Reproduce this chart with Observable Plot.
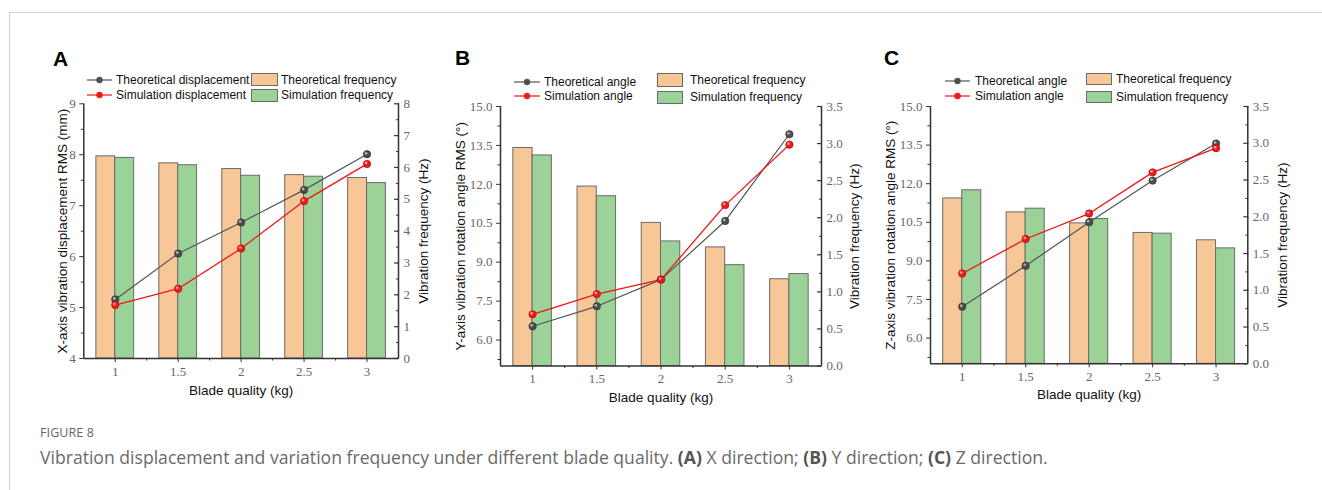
<!DOCTYPE html>
<html><head><meta charset="utf-8">
<script src="https://cdn.jsdelivr.net/npm/d3@7"></script>
<script src="https://cdn.jsdelivr.net/npm/@observablehq/plot@0.6"></script>
<style>
html,body{margin:0;padding:0;background:#fff;}
body{width:1322px;height:490px;overflow:hidden;position:relative;font-family:"Liberation Sans",Arial,sans-serif;}
#card{position:absolute;left:9px;top:12px;width:1313px;height:478px;border-top:1px solid #cfcfcf;border-left:1px solid #cfcfcf;box-sizing:border-box;}
.abs{position:absolute;}
.letter{font-weight:bold;font-size:21px;line-height:21px;color:#000;}
.leg{position:absolute;font-size:12px;line-height:14px;height:14px;color:#111;white-space:nowrap;}
.sw{position:absolute;border:1px solid #6a6a6a;box-sizing:border-box;}
.panel svg{position:absolute;left:0;top:0;}
#fig{position:absolute;left:40px;top:425px;font-family:"Open Sans",sans-serif;font-size:12.5px;line-height:16px;color:#666;letter-spacing:0.1px;}
#cap{position:absolute;left:40px;top:445px;font-family:"Open Sans",sans-serif;font-size:17.6px;line-height:24px;color:#6a6a6a;white-space:nowrap;}
#cap b{color:#555;}
</style>
</head><body>
<div id="card"></div>
<div id="root"></div>
<div id="fig">FIGURE 8</div>
<div id="cap">Vibration displacement and variation frequency under different blade quality. <b>(A)</b> X direction; <b>(B)</b> Y direction; <b>(C)</b> Z direction.</div>
<script>
// ---------- data ----------
const massKg = [1, 1.5, 2, 2.5, 3];
const xTickLabels = ["1", "1.5", "2", "2.5", "3"];

// Panel A: X direction (displacement mm, frequency Hz)
const theoDispA = [5.16, 6.06, 6.67, 7.31, 8.01];
const simDispA  = [5.05, 5.37, 6.16, 7.09, 7.82];
const theoFreqA = [6.35, 6.13, 5.95, 5.76, 5.67];
const simFreqA  = [6.30, 6.07, 5.74, 5.71, 5.51];

// Panel B: Y direction (angle °, frequency Hz)
const theoAngleB = [6.53, 7.30, 8.33, 10.59, 13.93];
const simAngleB  = [6.99, 7.77, 8.33, 11.20, 13.53];
const theoFreqB  = [2.94, 2.42, 1.93, 1.60, 1.17];
const simFreqB   = [2.84, 2.29, 1.68, 1.36, 1.24];

// Panel C: Z direction (angle °, frequency Hz)
const theoAngleC = [7.22, 8.81, 10.50, 12.12, 13.56];
const simAngleC  = [8.51, 9.85, 10.84, 12.44, 13.38];
const theoFreqC  = [2.25, 2.06, 1.91, 1.78, 1.68];
const simFreqC   = [2.36, 2.11, 1.97, 1.77, 1.57];

// ticks
const xMinorTicks = [1.25, 1.75, 2.25, 2.75];
const dispTicksA = [4, 5, 6, 7, 8, 9];
const dispMinorA = [4.5, 5.5, 6.5, 7.5, 8.5];
const freqTicksA = [0, 1, 2, 3, 4, 5, 6, 7, 8];
const freqMinorA = [0.5, 1.5, 2.5, 3.5, 4.5, 5.5, 6.5, 7.5];
const angleTicks = [6, 7.5, 9, 10.5, 12, 13.5, 15];
const angleMinor = [5.25, 6.75, 8.25, 9.75, 11.25, 12.75, 14.25];
const freqTicksBC = [0, 0.5, 1, 1.5, 2, 2.5, 3, 3.5];
const freqMinorBC = [0.25, 0.75, 1.25, 1.75, 2.25, 2.75, 3.25];

// ---------- styles ----------
const ORANGE = "#f8c797";
const GREEN = "#9bd297";
const BAR_STROKE = "#6a6a6a";
const AXIS = "#333";
const GRAYLINE = "#555";
const RED = "#f01515";
const TICKFONT = "'Liberation Serif', 'DejaVu Serif', serif";
const TITLEFONT = "'Liberation Sans', Arial, sans-serif";

const panels = [
  {id: "A", left: 25, top: 90, width: 415, height: 320, mL: 58.3, mR: 42, mT: 13.3, mB: 52,
   line1: theoDispA, line2: simDispA, f1: theoFreqA, f2: simFreqA,
   yDomain: [4, 9], yTicks: dispTicksA, yMinor: dispMinorA, yFmt: d => String(d),
   fDomain: [0, 8], fTicks: freqTicksA, fMinor: freqMinorA, fFmt: d => String(d),
   yTitle: "X-axis vibration displacement RMS (mm)", yTitleDx: -21.5, fTitleDx: 25.5, xTitleDy: 32,
   letterX: 53, letterY: 48,
   leg: {symX: 87, symW: 25, row1: 80, row2: 94.5, textX: 116, swX: 251, swW: 26.5, sw1: 73.3, sw2: 89, swH: 12.7, swTextX: 281,
         l1: "Theoretical displacement", l2: "Simulation displacement"}},
  {id: "B", left: 440, top: 90, width: 430, height: 320, mL: 60, mR: 49, mT: 16, mB: 44.5,
   line1: theoAngleB, line2: simAngleB, f1: theoFreqB, f2: simFreqB,
   yDomain: [5, 15], yTicks: angleTicks, yMinor: angleMinor, yFmt: d => d.toFixed(1),
   fDomain: [0, 3.5], fTicks: freqTicksBC, fMinor: freqMinorBC, fFmt: d => d.toFixed(1),
   yTitle: "Y-axis vibration rotation angle RMS (°)", yTitleDx: -40, fTitleDx: 33, xTitleDy: 31.5,
   letterX: 455, letterY: 47,
   leg: {symX: 514, symW: 26, row1: 81.7, row2: 96, textX: 544, swX: 656.7, swW: 26.6, sw1: 73.3, sw2: 90.7, swH: 13.5, swTextX: 690,
         l1: "Theoretical angle", l2: "Simulation angle"}},
  {id: "C", left: 870, top: 90, width: 440, height: 320, mL: 60, mR: 62.7, mT: 16, mB: 46.7,
   line1: theoAngleC, line2: simAngleC, f1: theoFreqC, f2: simFreqC,
   yDomain: [5, 15], yTicks: angleTicks, yMinor: angleMinor, yFmt: d => d.toFixed(1),
   fDomain: [0, 3.5], fTicks: freqTicksBC, fMinor: freqMinorBC, fFmt: d => d.toFixed(1),
   yTitle: "Z-axis vibration rotation angle RMS (°)", yTitleDx: -40, fTitleDx: 35, xTitleDy: 31,
   letterX: 884, letterY: 47,
   leg: {symX: 945, symW: 25, row1: 80.7, row2: 95.7, textX: 975, swX: 1086, swW: 25.7, sw1: 72.7, sw2: 90.7, swH: 12.6, swTextX: 1116,
         l1: "Theoretical angle", l2: "Simulation angle"}}
];

const root = document.getElementById("root");

function addHTML(html) {
  const d = document.createElement("div");
  d.innerHTML = html;
  while (d.firstChild) root.appendChild(d.firstChild);
}

function lineSymbol(x, y, w, color, ball) {
  return `<svg class="abs" style="left:${x}px;top:${y - 5}px" width="${w}" height="10">
    <line x1="0" y1="5" x2="${w}" y2="5" stroke="${color}" stroke-width="1.2"/>
    <circle cx="${w / 2}" cy="5" r="3" fill="${ball}" stroke="${color}" stroke-width="0.6"/></svg>`;
}

for (const p of panels) {
  const data = massKg.map((m, i) => ({m, label: xTickLabels[i], a: p.line1[i], b: p.line2[i], fa: p.f1[i], fb: p.f2[i]}));
  const common = {
    width: p.width, height: p.height,
    marginLeft: p.mL, marginRight: p.mR, marginTop: p.mT, marginBottom: p.mB,
    x: {domain: [0.75, 3.25], axis: null, label: null},
  };

  // Frequency bars + right axis
  const bars = Plot.plot({
    ...common,
    y: {domain: p.fDomain, axis: null, label: null},
    style: {background: "white", fontFamily: TICKFONT, fontSize: "13px", overflow: "visible"},
    marks: [
      Plot.rect(data, {x1: d => d.m - 0.15, x2: d => d.m, y1: d => 0, y2: "fa", fill: ORANGE, stroke: BAR_STROKE, strokeWidth: 1}),
      Plot.rect(data, {x1: d => d.m, x2: d => d.m + 0.15, y1: d => 0, y2: "fb", fill: GREEN, stroke: BAR_STROKE, strokeWidth: 1}),
      Plot.ruleX([3.25], {stroke: AXIS, strokeWidth: 1.5}),
      Plot.axisY({anchor: "right", ticks: p.fTicks, tickSize: 5, dx: -5, fill: "none", stroke: AXIS, strokeWidth: 1.2, label: null}),
      Plot.axisY({anchor: "right", ticks: p.fMinor, tickSize: 3, dx: -3, fill: "none", stroke: AXIS, strokeWidth: 1, label: null}),
      Plot.axisY({anchor: "right", ticks: p.fTicks, tickSize: 0, tickPadding: 5, tickFormat: p.fFmt, fill: "#666", label: null}),
      Plot.text(["Vibration frequency (Hz)"], {frameAnchor: "right", textAnchor: "middle", lineAnchor: "middle", dx: p.fTitleDx, rotate: -90, fontFamily: TITLEFONT, fontSize: 13.5, fill: "#111"})
    ]
  });

  // Lines + left & bottom axes
  const lines = Plot.plot({
    ...common,
    y: {domain: p.yDomain, axis: null, label: null},
    style: {background: "transparent", fontFamily: TICKFONT, fontSize: "13px", overflow: "visible"},
    marks: [
      Plot.ruleX([0.75], {stroke: AXIS, strokeWidth: 1.5}),
      Plot.ruleY([p.yDomain[0]], {stroke: AXIS, strokeWidth: 1.5}),
      Plot.axisX({anchor: "bottom", ticks: massKg, tickSize: 4, tickPadding: 4, tickFormat: (d, i) => xTickLabels[i], stroke: AXIS, fill: "#666", label: null}),
      Plot.axisX({anchor: "bottom", ticks: xMinorTicks, tickSize: 2.5, fill: "none", stroke: AXIS, label: null}),
      Plot.axisY({anchor: "left", ticks: p.yTicks, tickSize: 4, tickPadding: 4, tickFormat: p.yFmt, stroke: AXIS, fill: "#666", label: null}),
      Plot.axisY({anchor: "left", ticks: p.yMinor, tickSize: 2.5, fill: "none", stroke: AXIS, label: null}),
      Plot.line(data, {x: "m", y: "a", stroke: GRAYLINE, strokeWidth: 1.2}),
      Plot.line(data, {x: "m", y: "b", stroke: RED, strokeWidth: 1.3}),
      Plot.dot(data, {x: "m", y: "a", r: 3.7, fill: "#4d4d4d", stroke: "#2a2a2a", strokeWidth: 0.6}),
      Plot.dot(data, {x: "m", y: "a", r: 1.3, fill: "#b8b8b8", dx: -1, dy: -1}),
      Plot.dot(data, {x: "m", y: "b", r: 3.7, fill: "#ee1b1b", stroke: "#b00000", strokeWidth: 0.6}),
      Plot.dot(data, {x: "m", y: "b", r: 1.3, fill: "#ffa0a0", dx: -1, dy: -1}),
      Plot.text([p.yTitle], {frameAnchor: "left", textAnchor: "middle", lineAnchor: "middle", dx: p.yTitleDx, rotate: -90, fontFamily: TITLEFONT, fontSize: 13.5, fill: "#111"}),
      Plot.text(["Blade quality (kg)"], {frameAnchor: "bottom", lineAnchor: "middle", dy: p.xTitleDy, fontFamily: TITLEFONT, fontSize: 13.5, fill: "#111"})
    ]
  });

  const box = document.createElement("div");
  box.className = "panel abs";
  box.style.left = p.left + "px";
  box.style.top = p.top + "px";
  box.style.width = p.width + "px";
  box.style.height = p.height + "px";
  box.appendChild(bars);
  box.appendChild(lines);
  root.appendChild(box);

  const L = p.leg;
  addHTML(`<div class="abs letter" style="left:${p.letterX}px;top:${p.letterY}px">${p.id}</div>`);
  addHTML(lineSymbol(L.symX, L.row1, L.symW, GRAYLINE, "#4d4d4d"));
  addHTML(lineSymbol(L.symX, L.row2, L.symW, RED, "#ee1b1b"));
  addHTML(`<div class="leg" style="left:${L.textX}px;top:${L.row1 - 7}px">${L.l1}</div>`);
  addHTML(`<div class="leg" style="left:${L.textX}px;top:${L.row2 - 7}px">${L.l2}</div>`);
  addHTML(`<div class="sw" style="left:${L.swX}px;top:${L.sw1}px;width:${L.swW}px;height:${L.swH}px;background:${ORANGE}"></div>`);
  addHTML(`<div class="sw" style="left:${L.swX}px;top:${L.sw2}px;width:${L.swW}px;height:${L.swH}px;background:${GREEN}"></div>`);
  addHTML(`<div class="leg" style="left:${L.swTextX}px;top:${L.sw1 + L.swH / 2 - 7}px">Theoretical frequency</div>`);
  addHTML(`<div class="leg" style="left:${L.swTextX}px;top:${L.sw2 + L.swH / 2 - 7}px">Simulation frequency</div>`);
}
</script>
</body></html>
